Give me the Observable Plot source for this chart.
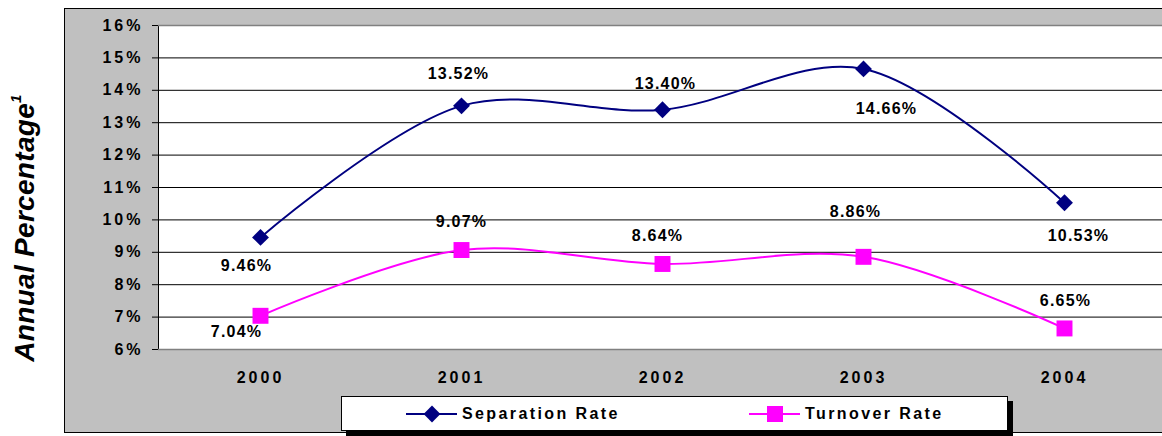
<!DOCTYPE html>
<html>
<head>
<meta charset="utf-8">
<script src="https://cdn.jsdelivr.net/npm/d3@7"></script>
<script src="https://cdn.jsdelivr.net/npm/@observablehq/plot@0.6"></script>
<style>
  html, body { margin: 0; padding: 0; background: #fff; }
  #wrap { position: relative; width: 1162px; height: 436px; overflow: hidden; font-family: "Liberation Sans", Arial, sans-serif; }
  #panel { position: absolute; left: 64px; top: 8px; width: 1200px; height: 425px; background: #C0C0C0; border: 1.5px solid #000; box-sizing: border-box; }
  #chart { position: absolute; left: 0; top: 0; }
  #ytitle { position: absolute; left: 25px; top: 228px; transform: translate(-50%, -50%) rotate(-90deg); white-space: nowrap;
            font-size: 28px; font-weight: bold; font-style: italic; color: #000; letter-spacing: 0.3px; }
  #ytitle sup { font-size: 15px; position: relative; top: -3px; }
  #legend { position: absolute; left: 341px; top: 396px; width: 667px; height: 35px; background: #fff; border: 1px solid #000;
            box-sizing: border-box; box-shadow: 5px 5px 0 #000; }
  .item { position: absolute; top: 0; height: 33px; display: flex; align-items: center; }
  .item span { font-size: 16px; font-weight: bold; letter-spacing: 2.4px; color: #000; margin-left: 5px; }
  svg text { fill: #000; }
  g[aria-label="y-axis tick label"] text { letter-spacing: 3px; }
  g[aria-label="x-axis tick label"] text { letter-spacing: 3px; }
  g[aria-label="text"] text { letter-spacing: 1.2px; }
</style>
</head>
<body>
<div id="wrap">
  <div id="panel"></div>
  <div id="chart"></div>
  <div id="ytitle">Annual Percentage<sup>1</sup></div>
  <div id="legend"></div>
</div>
<script>
// ---- data ----
const years = ["2000", "2001", "2002", "2003", "2004"];
const separationRate = [9.46, 13.52, 13.40, 14.66, 10.53];
const turnoverRate = [7.04, 9.07, 8.64, 8.86, 6.65];
const yTicks = [6, 7, 8, 9, 10, 11, 12, 13, 14, 15, 16];
const seriesNames = ["Separation Rate", "Turnover Rate"];

const NAVY = "#000080", MAGENTA = "#FF00FF";

const sep = years.map((y, i) => ({year: y, value: separationRate[i]}));
const turn = years.map((y, i) => ({year: y, value: turnoverRate[i]}));

// label offsets (Excel-like label placement), pixels relative to each point
const sepOff = [[-14, 28], [-3, -32], [3, -26], [23, 40], [14, 33]];
const turnOff = [[-24, 16], [0, -28], [-5, -28], [-8, -45], [1, -28]];

const fmt = v => v.toFixed(2) + "%";

const labelMarks = (data, offs) => data.map((d, i) =>
  Plot.text([d], {x: "year", y: "value", text: d => fmt(d.value), dx: offs[i][0], dy: offs[i][1],
    fontSize: 16, fontWeight: "bold", fill: "#000"}));

const chart = Plot.plot({
  width: 1162,
  height: 436,
  marginLeft: 158,
  marginRight: -4,
  marginTop: 25,
  marginBottom: 87,
  style: {fontFamily: '"Liberation Sans", Arial, sans-serif', fontSize: "16px", fontWeight: "bold", background: "transparent", color: "#000"},
  x: {type: "point", domain: years, padding: 0.5, axis: null, label: null},
  y: {domain: [6, 16], axis: null, label: null},
  marks: [
    Plot.frame({fill: "white", stroke: "#000", strokeWidth: 1}),
    Plot.gridY(yTicks, {stroke: "#000", strokeOpacity: 1, strokeWidth: 1}),
    Plot.ruleY([6, 16], {stroke: "#808080", strokeWidth: 1.5}),
    Plot.axisY(yTicks, {label: null, tickSize: 6, tickPadding: 9, tickFormat: d => d + "%", fontSize: 16, fontWeight: "bold", stroke: "#000"}),
    Plot.axisX(years, {label: null, tickSize: 0, tickPadding: 22, fontSize: 16, fontWeight: "bold"}),
    Plot.line(sep, {x: "year", y: "value", stroke: NAVY, strokeWidth: 2, curve: "catmull-rom"}),
    Plot.line(turn, {x: "year", y: "value", stroke: MAGENTA, strokeWidth: 2, curve: "catmull-rom"}),
    Plot.dot(sep, {x: "year", y: "value", symbol: "diamond2", r: 7.6, fill: NAVY, stroke: "none"}),
    Plot.dot(turn, {x: "year", y: "value", symbol: "square", r: 9, fill: MAGENTA, stroke: "none"}),
    ...labelMarks(sep, sepOff),
    ...labelMarks(turn, turnOff)
  ]
});
document.getElementById("chart").appendChild(chart);

// ---- legend ----
const legend = document.getElementById("legend");
const items = [
  {name: seriesNames[0], color: NAVY, symbol: "diamond", left: 64},
  {name: seriesNames[1], color: MAGENTA, symbol: "square", left: 407}
];
items.forEach(it => {
  const div = document.createElement("div");
  div.className = "item";
  div.style.left = it.left + "px";
  const sw = d3.create("svg").attr("width", 51).attr("height", 20);
  sw.append("line").attr("x1", 0).attr("x2", 51).attr("y1", 10).attr("y2", 10).attr("stroke", it.color).attr("stroke-width", 2);
  if (it.symbol === "diamond") {
    sw.append("path").attr("d", d3.symbol(d3.symbolDiamond2, 180)()).attr("transform", "translate(26,10)").attr("fill", it.color);
  } else {
    sw.append("rect").attr("x", 18).attr("y", 2).attr("width", 16).attr("height", 16).attr("fill", it.color);
  }
  div.appendChild(sw.node());
  const sp = document.createElement("span");
  sp.textContent = it.name;
  div.appendChild(sp);
  legend.appendChild(div);
});
</script>
</body>
</html>
